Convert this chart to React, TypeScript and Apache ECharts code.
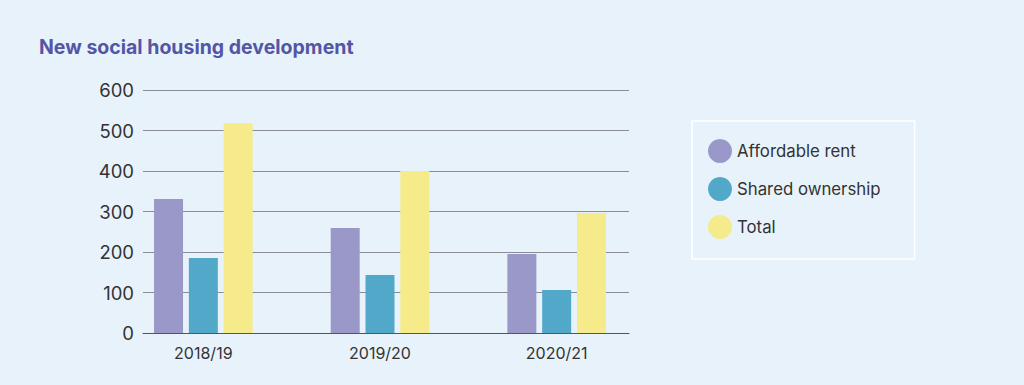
import React, { useEffect, useRef } from "react";
import * as echarts from "echarts";

const categories = ["2018/19", "2019/20", "2020/21"];
const affordableRent = [331, 259, 195];
const sharedOwnership = [185, 143, 106];
const total = [518, 400, 296];
const yTicks = { min: 0, max: 600, interval: 100 };

const FONT = "Inter, 'Noto Sans', sans-serif";

export default function App() {
  const ref = useRef<HTMLDivElement>(null);
  useEffect(() => {
    if (!ref.current) return;
    const chart = echarts.init(ref.current, undefined, { renderer: "svg" });
    chart.setOption({
      animation: false,
      backgroundColor: "#e8f2fb",
      textStyle: { fontFamily: FONT },
      title: {
        text: "New social housing development",
        left: 34,
        top: 32,
        textStyle: { fontSize: 19.5, fontWeight: "bold", color: "#5256a4", fontFamily: FONT },
      },
      legend: {
        orient: "vertical",
        left: 692,
        top: 121,
        icon: "circle",
        itemWidth: 24,
        itemHeight: 24,
        itemGap: 14,
        borderColor: "#ffffff",
        borderWidth: 1.5,
        padding: [18, 34, 20, 16],
        textStyle: { fontSize: 16.8, color: "#333", fontFamily: FONT },
        data: ["Affordable rent", "Shared ownership", "Total"],
      },
      grid: [
        { left: 143, right: 1024 - 629, top: 90, bottom: 52 },
        { left: 115, right: 1024 - 645, top: 90, bottom: 52 },
      ],
      xAxis: [
        {
          gridIndex: 0,
          type: "category",
          data: categories,
          axisLine: { show: true, lineStyle: { color: "#555", width: 1 } },
          axisTick: { show: false },
          axisLabel: { show: false },
        },
        {
          gridIndex: 1,
          type: "category",
          data: categories,
          axisLine: { show: false },
          axisTick: { show: false },
          axisLabel: { fontSize: 16, color: "#333", margin: 12, fontFamily: FONT },
        },
      ],
      yAxis: [
        {
          gridIndex: 0,
          type: "value",
          min: yTicks.min,
          max: yTicks.max,
          interval: yTicks.interval,
          axisLine: { show: false },
          axisTick: { show: false },
          axisLabel: { fontSize: 18.5, color: "#333", margin: 9, fontFamily: FONT },
          splitLine: { lineStyle: { color: "#8a8e94", width: 1 } },
        },
        {
          gridIndex: 1,
          type: "value",
          min: yTicks.min,
          max: yTicks.max,
          interval: yTicks.interval,
          show: false,
          splitLine: { show: false },
        },
      ],
      series: [
        {
          name: "Affordable rent",
          type: "bar",
          xAxisIndex: 1,
          yAxisIndex: 1,
          data: affordableRent,
          barWidth: 29,
          barGap: "20%",
          itemStyle: { color: "#9a98c9" },
          z: 3,
        },
        {
          name: "Shared ownership",
          type: "bar",
          xAxisIndex: 1,
          yAxisIndex: 1,
          data: sharedOwnership,
          barWidth: 29,
          barGap: "20%",
          itemStyle: { color: "#52a8c8" },
          z: 3,
        },
        {
          name: "Total",
          type: "bar",
          xAxisIndex: 1,
          yAxisIndex: 1,
          data: total,
          barWidth: 29,
          barGap: "20%",
          itemStyle: { color: "#f5eb8a" },
          z: 3,
        },
      ],
    });
    return () => chart.dispose();
  }, []);
  return (
    <div
      ref={ref}
      style={{ position: "fixed", left: 0, top: 0, width: 1024, height: 385 }}
    />
  );
}
